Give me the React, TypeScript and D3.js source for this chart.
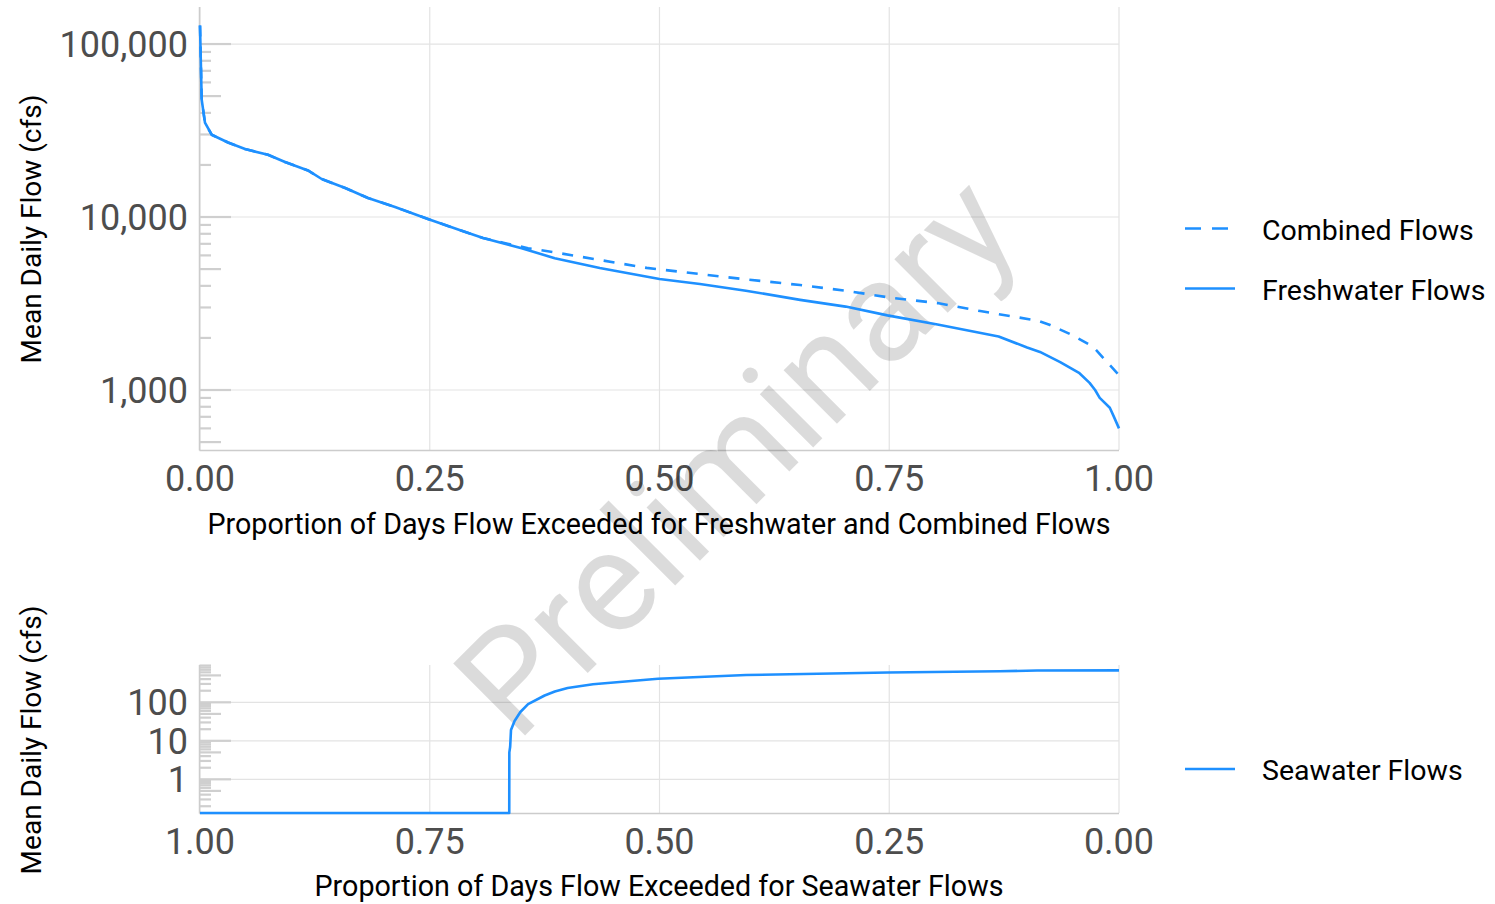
import React from "react";
import * as d3 from "d3";

// ---------- data ----------
const freshwaterProportion = [0, 0.00185, 0.0054, 0.0127, 0.0305, 0.049, 0.074, 0.0925, 0.1175, 0.1324, 0.158, 0.1828, 0.2122, 0.248, 0.2848, 0.308, 0.35, 0.386, 0.435, 0.5, 0.544, 0.594, 0.653, 0.7025, 0.748, 0.8025, 0.869, 0.9, 0.914, 0.936, 0.957, 0.968, 0.974, 0.979, 0.99, 0.995, 1.0];
const freshwaterFlow = [128000, 47600, 35100, 29900, 26980, 24700, 22900, 20780, 18590, 16590, 14710, 12880, 11420, 9740, 8330, 7560, 6600, 5780, 5070, 4380, 4100, 3750, 3320, 3035, 2700, 2390, 2040, 1760, 1660, 1450, 1250, 1100, 1000, 900, 790, 690, 600];

const combinedProportion = [0, 0.00185, 0.0054, 0.0127, 0.0305, 0.049, 0.074, 0.0925, 0.1175, 0.1324, 0.158, 0.1828, 0.2122, 0.248, 0.2848, 0.308, 0.33, 0.357, 0.386, 0.486, 0.594, 0.653, 0.7025, 0.751, 0.8025, 0.849, 0.911, 0.925, 0.949, 0.972, 0.983, 1.0];
const combinedFlow = [128000, 47600, 35100, 29900, 26980, 24700, 22900, 20780, 18590, 16590, 14710, 12880, 11420, 9740, 8330, 7560, 7100, 6600, 6250, 5080, 4360, 4045, 3750, 3420, 3180, 2860, 2520, 2375, 2080, 1775, 1530, 1220];

const seawaterProportion = [0, 0.0892, 0.13, 0.2516, 0.4058, 0.5016, 0.5724, 0.6, 0.6139, 0.625, 0.643, 0.6514, 0.6577, 0.6616, 0.6625, 0.6634, 0.6635, 1.0];
const seawaterFlow = [676, 668, 640, 595, 512, 410, 295, 235, 190, 150, 90, 56, 32.7, 19, 7, 5, 0, 0];

const topXTicks = [0, 0.25, 0.5, 0.75, 1];
const topYTicks = [1000, 10000, 100000];
const bottomXTicks = [1, 0.75, 0.5, 0.25, 0];
const bottomYTicks = [1, 10, 100];

const topXTitle = "Proportion of Days Flow Exceeded for Freshwater and Combined Flows";
const bottomXTitle = "Proportion of Days Flow Exceeded for Seawater Flows";
const yTitle = "Mean Daily Flow (cfs)";
const legendTop = ["Combined Flows", "Freshwater Flows"];
const legendBottom = ["Seawater Flows"];
const watermark = "Preliminary";

// ---------- styling ----------
const BLUE = "#1E90FF";
const GRID = "#e3e3e3";
const AXIS = "#cccccc";
const TICKTXT = "#4d4d4d";
const FONT = "Roboto, 'Noto Sans', sans-serif";

const X0 = 200;
const X1 = 1119;

function logTicks(domain: [number, number]) {
  const out: { v: number; kind: "long" | "mid" | "short" }[] = [];
  const lo = Math.floor(Math.log10(domain[0]));
  const hi = Math.ceil(Math.log10(domain[1]));
  for (let e = lo; e <= hi; e++) {
    for (let m = 1; m <= 9; m++) {
      const v = m * Math.pow(10, e);
      if (v >= domain[0] && v <= domain[1]) {
        out.push({ v, kind: m === 1 ? "long" : m === 5 ? "mid" : "short" });
      }
    }
  }
  return out;
}

const tickLen = { long: 31, mid: 21, short: 11 };

export default function App() {
  // top panel
  const topDomain: [number, number] = [450, 163700];
  const xTop = d3.scaleLinear().domain([0, 1]).range([X0, X1]);
  const yTop = d3.scaleLog().domain(topDomain).range([450, 7]);

  // bottom panel
  const botDomain: [number, number] = [0.1334, 931];
  const xBot = d3.scaleLinear().domain([1, 0]).range([X0, X1]);
  const yBot = d3.scaleLog().domain(botDomain).range([813, 665]);

  const fresh = freshwaterProportion.map((p, i) => [p, freshwaterFlow[i]] as [number, number]);
  const comb = combinedProportion.map((p, i) => [p, combinedFlow[i]] as [number, number]);
  const sea = seawaterProportion.map((p, i) => [p, seawaterFlow[i]] as [number, number]);

  const lineTop = d3
    .line<[number, number]>()
    .x((d) => xTop(d[0]))
    .y((d) => yTop(d[1]));
  const lineBot = d3
    .line<[number, number]>()
    .x((d) => xBot(d[0]))
    .y((d) => (d[1] > 0 ? yBot(d[1]) : yBot.range()[0]));

  const fmt = d3.format(",");
  const fmtX = d3.format(".2f");

  const panel = (
    xs: d3.ScaleLinear<number, number>,
    ys: d3.ScaleLogarithmic<number, number>,
    xTicks: number[],
    yTicks: number[],
    domain: [number, number],
    key: string
  ) => {
    const [yb, yt] = ys.range();
    return (
      <g key={key}>
        {xTicks.map((t) => (
          <line key={"gx" + t} x1={xs(t)} x2={xs(t)} y1={yt} y2={yb} stroke={GRID} strokeWidth={1.2} />
        ))}
        {yTicks.map((t) => (
          <line key={"gy" + t} x1={X0} x2={X1} y1={ys(t)} y2={ys(t)} stroke={GRID} strokeWidth={1.2} />
        ))}
        <line x1={X0 - 0.5} x2={X0 - 0.5} y1={yt} y2={yb + 0.5} stroke={AXIS} strokeWidth={1.5} />
        <line x1={X0 - 0.5} x2={X1} y1={yb + 0.5} y2={yb + 0.5} stroke={AXIS} strokeWidth={1.5} />
        {logTicks(domain).map((t, i) => (
          <line
            key={"lt" + i}
            x1={X0 - 0.5}
            x2={X0 + tickLen[t.kind]}
            y1={ys(t.v)}
            y2={ys(t.v)}
            stroke="#cfcfcf"
            strokeWidth={2.2}
          />
        ))}
        {yTicks.map((t) => (
          <text
            key={"ly" + t}
            x={188}
            y={ys(t)}
            dy="0.36em"
            textAnchor="end"
            fontSize={36}
            fill={TICKTXT}
            fontFamily={FONT}
          >
            {fmt(t)}
          </text>
        ))}
        {xTicks.map((t) => (
          <text
            key={"lx" + t}
            x={xs(t)}
            y={yb + 41}
            textAnchor="middle"
            fontSize={36}
            fill={TICKTXT}
            fontFamily={FONT}
          >
            {fmtX(t)}
          </text>
        ))}
      </g>
    );
  };

  return (
    <svg
      width={1495}
      height={904}
      style={{ position: "absolute", left: 0, top: 0, background: "#ffffff" }}
    >
      <rect x={0} y={0} width={1495} height={904} fill="#ffffff" />
      {panel(xTop, yTop, topXTicks, topYTicks, topDomain, "top")}
      {panel(xBot, yBot, bottomXTicks, bottomYTicks, botDomain, "bot")}

      {/* watermark */}
      <text
        transform="translate(738,458) rotate(-45)"
        textAnchor="middle"
        dy="0.32em"
        fontSize={143}
        fontFamily={FONT}
        fill="#000000"
        fillOpacity={0.14}
      >
        {watermark}
      </text>

      {/* series */}
      <path d={lineTop(comb) || ""} fill="none" stroke={BLUE} strokeWidth={2.6} strokeDasharray="11 10" />
      <path d={lineTop(fresh) || ""} fill="none" stroke={BLUE} strokeWidth={2.6} strokeLinejoin="round" />
      <path d={lineBot(sea) || ""} fill="none" stroke={BLUE} strokeWidth={2.6} strokeLinejoin="round" />

      {/* axis titles */}
      <text x={659} y={533.5} textAnchor="middle" fontSize={30} fontFamily={FONT} fill="#000" textLength={903} lengthAdjust="spacingAndGlyphs">
        {topXTitle}
      </text>
      <text x={659} y={896} textAnchor="middle" fontSize={30} fontFamily={FONT} fill="#000" textLength={689} lengthAdjust="spacingAndGlyphs">
        {bottomXTitle}
      </text>
      <text transform="translate(41,229) rotate(-90)" textAnchor="middle" fontSize={28} fontFamily={FONT} fill="#000">
        {yTitle}
      </text>
      <text transform="translate(41,740) rotate(-90)" textAnchor="middle" fontSize={28} fontFamily={FONT} fill="#000">
        {yTitle}
      </text>

      {/* legends */}
      <line x1={1185} x2={1235} y1={228.5} y2={228.5} stroke={BLUE} strokeWidth={2.6} strokeDasharray="16 11" />
      <text x={1262} y={239.5} fontSize={28.5} fontFamily={FONT} fill="#000">{legendTop[0]}</text>
      <line x1={1185} x2={1235} y1={288.5} y2={288.5} stroke={BLUE} strokeWidth={2.6} />
      <text x={1262} y={300} fontSize={28.5} fontFamily={FONT} fill="#000">{legendTop[1]}</text>
      <line x1={1185} x2={1235} y1={769} y2={769} stroke={BLUE} strokeWidth={2.6} />
      <text x={1262} y={780} fontSize={28.5} fontFamily={FONT} fill="#000">{legendBottom[0]}</text>
    </svg>
  );
}
